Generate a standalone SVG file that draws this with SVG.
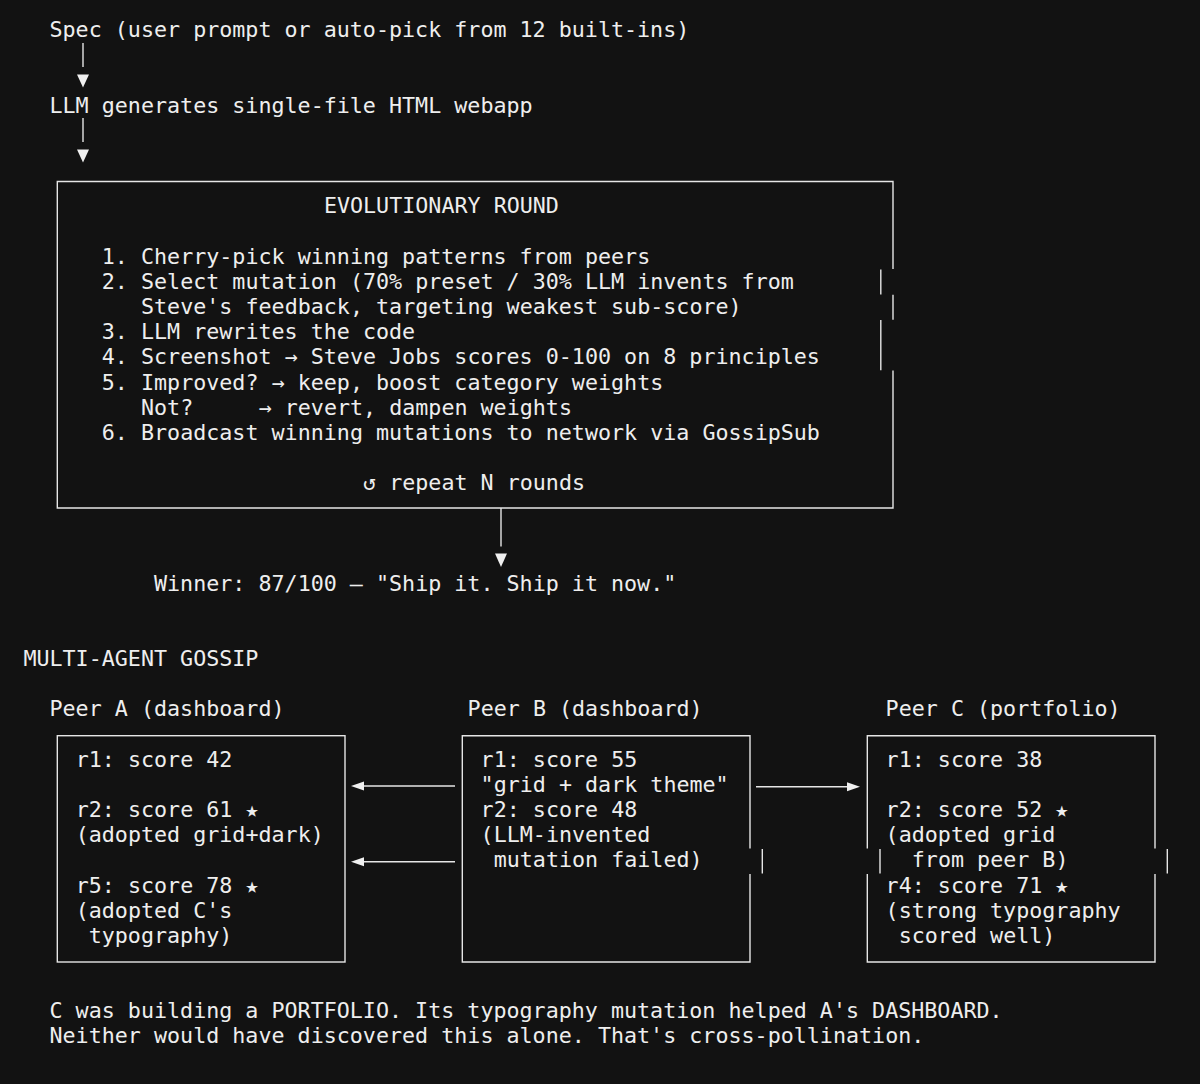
<svg xmlns="http://www.w3.org/2000/svg" width="1200" height="1084" viewBox="0 0 1200 1084">
<defs>
<style>
text{font-family:"DejaVu Sans Mono","Liberation Mono",monospace;font-size:21.7px;fill:#eeeeee;}
.ln{stroke:#e6e6e6;stroke-width:1.4;fill:none;}
.ah{fill:#f0f0f0;stroke:none;}
</style>
</defs>
<rect width="1200" height="1084" fill="#121212"/>

<g id="spec"><text x="49.5" y="37.4">Spec (user prompt or auto-pick from 12 built-ins)</text></g>
<g id="llm-generate"><text x="49.5" y="112.85">LLM generates single-file HTML webapp</text></g>

<g id="evolutionary-round">
<path class="ln" d="M893,269 V181.5 H57.3 V508 H893 V370.5"/>
<path class="ln" d="M880.8,269.5 V294.5 M893,294.8 V319.8 M880.8,320 V370.3"/>
<text x="323.9" y="213.45">EVOLUTIONARY ROUND</text>
<text x="101.8" y="263.75">1. Cherry-pick winning patterns from peers</text>
<text x="101.8" y="288.9">2. Select mutation (70% preset / 30% LLM invents from</text>
<text x="141" y="314.05">Steve's feedback, targeting weakest sub-score)</text>
<text x="101.8" y="339.2">3. LLM rewrites the code</text>
<text x="101.8" y="364.35">4. Screenshot → Steve Jobs scores 0-100 on 8 principles</text>
<text x="101.8" y="389.5">5. Improved? → keep, boost category weights</text>
<text x="141" y="414.65">Not?</text>
<text x="258.6" y="414.65">→ revert, dampen weights</text>
<text x="101.8" y="439.8">6. Broadcast winning mutations to network via GossipSub</text>
<text x="363.1" y="490.1">↺</text>
<text x="389.2" y="490.1">repeat N rounds</text>
</g>

<g id="winner"><text x="154" y="590.7">Winner: 87/100 — "Ship it. Ship it now."</text></g>

<g id="gossip-title"><text x="23.4" y="666.15">MULTI-AGENT GOSSIP</text></g>

<g id="peer-a">
<text x="49.5" y="716.45">Peer A (dashboard)</text>
<rect class="ln" x="57.3" y="735.7" width="287.7" height="226.3"/>
<text x="75.7" y="766.75">r1: score 42</text>
<text x="75.7" y="817.05">r2: score 61 ★</text>
<text x="75.7" y="842.2">(adopted grid+dark)</text>
<text x="75.7" y="892.5">r5: score 78 ★</text>
<text x="75.7" y="917.65">(adopted C's</text>
<text x="88.7" y="942.8">typography)</text>
</g>

<g id="peer-b">
<text x="467.6" y="716.45">Peer B (dashboard)</text>
<path class="ln" d="M750,848.5 V735.7 H462.3 V962 H750 V874 M762.3,849 V873.5"/>
<text x="480.6" y="766.75">r1: score 55</text>
<text x="480.6" y="791.9">"grid + dark theme"</text>
<text x="480.6" y="817.05">r2: score 48</text>
<text x="480.6" y="842.2">(LLM-invented</text>
<text x="493.7" y="867.35">mutation failed)</text>
</g>

<g id="peer-c">
<text x="885.6" y="716.45">Peer C (portfolio)</text>
<path class="ln" d="M867.3,848.5 V735.7 H1155 V848.5 M1155,874 V962 H867.3 V874 M880,849 V873.5 M1167.3,849 V873.5"/>
<text x="885.6" y="766.75">r1: score 38</text>
<text x="885.6" y="817.05">r2: score 52 ★</text>
<text x="885.6" y="842.2">(adopted grid</text>
<text x="911.8" y="867.35">from peer B)</text>
<text x="885.6" y="892.5">r4: score 71 ★</text>
<text x="885.6" y="917.65">(strong typography</text>
<text x="898.7" y="942.8">scored well)</text>
</g>

<g id="footer">
<text x="49.5" y="1018.25">C was building a PORTFOLIO. Its typography mutation helped A's DASHBOARD.</text>
<text x="49.5" y="1043.4">Neither would have discovered this alone. That's cross-pollination.</text>
</g>

<g id="connectors">
<line class="ln" x1="83" y1="43" x2="83" y2="67"/>
<polygon class="ah" points="77,74.5 89,74.5 83,87.5"/>
<line class="ln" x1="83" y1="118" x2="83" y2="142"/>
<polygon class="ah" points="77,149.5 89,149.5 83,162.5"/>
<line class="ln" x1="501" y1="508" x2="501" y2="546.5"/>
<polygon class="ah" points="495,553.5 507,553.5 501,567"/>
<line class="ln" x1="455" y1="786" x2="362" y2="786"/>
<polygon class="ah" points="351,786 364,781.5 364,790.5"/>
<line class="ln" x1="455" y1="861.7" x2="362" y2="861.7"/>
<polygon class="ah" points="351,861.7 364,857.2 364,866.2"/>
<line class="ln" x1="756" y1="786.7" x2="849" y2="786.7"/>
<polygon class="ah" points="860,786.7 847,782.2 847,791.2"/>
</g>
</svg>
